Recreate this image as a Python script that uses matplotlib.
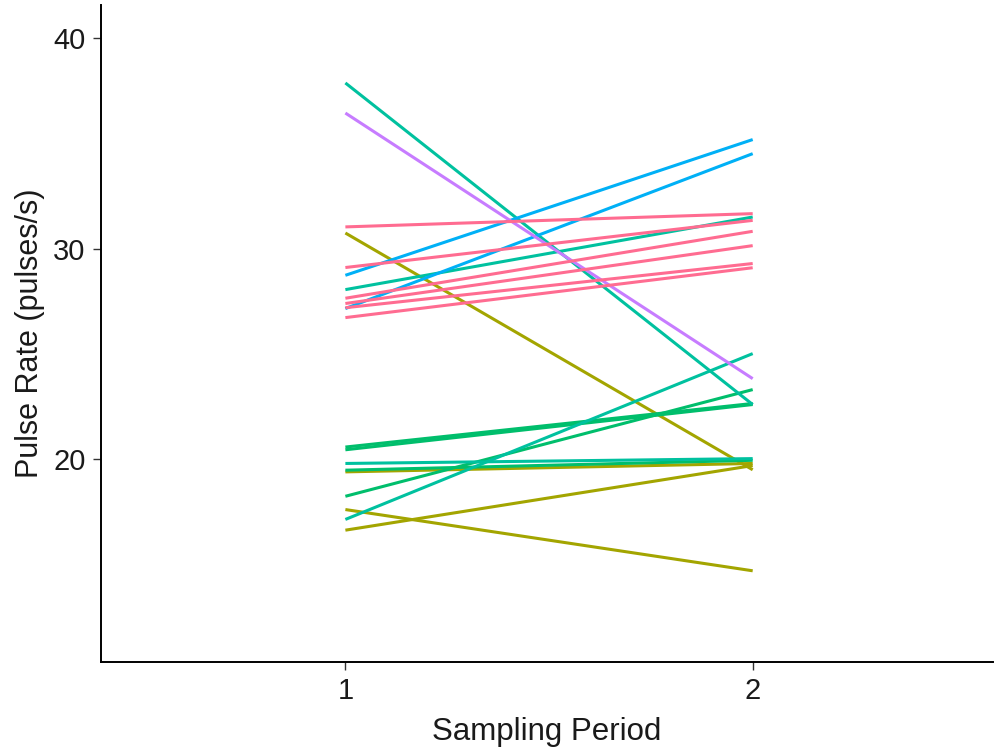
import numpy as np
from matplotlib import pyplot as plt

plt.rcParams['font.family'] = ['Liberation Sans', 'DejaVu Sans']

# pulse rate of each individual in the two sampling periods
periods = [1, 2]
rate_p1 = [30.75, 19.40, 16.63, 17.61,          # olive group
           20.58, 20.45, 19.48, 18.24,          # green group
           37.88, 28.06, 19.80, 17.14,          # teal group
           28.74, 27.16,                        # blue group
           36.45,                               # purple group
           31.04, 29.11, 27.65, 27.40, 27.20, 26.73]   # pink group
rate_p2 = [19.50, 19.80, 19.70, 14.70,
           22.65, 22.60, 19.95, 23.31,
           22.60, 31.51, 20.03, 25.02,
           35.19, 34.52,
           23.83,
           31.67, 31.35, 30.83, 30.15, 29.30, 29.10]
group = ['olive'] * 4 + ['green'] * 4 + ['teal'] * 4 + ['blue'] * 2 + ['purple'] + ['pink'] * 6

colours = {'olive': '#A3A500', 'green': '#00BE6C', 'teal': '#00C19F',
           'blue': '#00B0F6', 'purple': '#C77CFF', 'pink': '#FF6C91'}

fig = plt.figure(figsize=(9.95, 7.55), dpi=100)
ax = fig.add_axes([0.1015, 0.123, 0.8965, 0.870])

for a, b, g in zip(rate_p1, rate_p2, group):
    ax.plot(periods, [a, b], color=colours[g], lw=2.2, solid_capstyle='butt')

ax.set_xlim(0.4, 2.59)
ax.set_ylim(10.36, 41.57)
ax.set_xticks([1, 2])
ax.set_yticks([20, 30, 40])
ax.tick_params(labelsize=21, colors='#333333', length=6, width=1, pad=5)
ax.tick_params(labelcolor='#1a1a1a')
for s in ['top', 'right']:
    ax.spines[s].set_visible(False)
for s in ['left', 'bottom']:
    ax.spines[s].set_linewidth(1.4)
    ax.spines[s].set_color('black')

ax.set_xlabel('Sampling Period', fontsize=22.5, color='#1a1a1a', labelpad=8)
ax.set_ylabel('Pulse Rate (pulses/s)', fontsize=22, color='#1a1a1a', labelpad=6)

fig.savefig('out.png', dpi=100)
